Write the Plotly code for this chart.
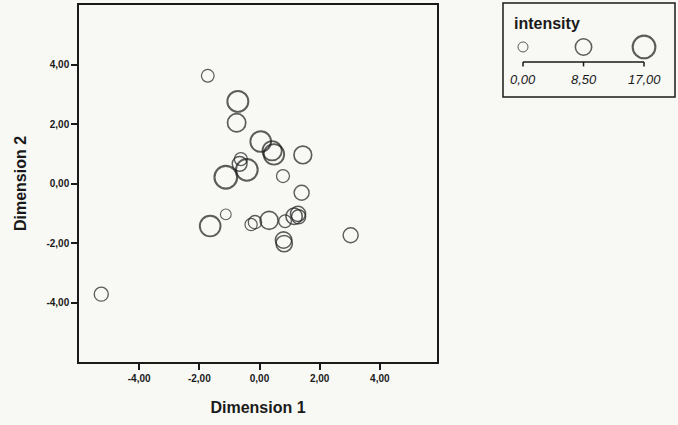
import plotly.graph_objects as go

# ---- data ----
dim1 = [-1.72, -0.72, -0.76, 0.04, 0.42, 0.48, 1.44, -0.62, -0.66, -0.42, -1.12, 0.78, 1.40,
        -1.12, -1.64, -0.28, -0.15, 0.32, 0.85, 1.15, 1.28, 1.30, 0.80, 0.82, 3.03, -5.26]
dim2 = [3.62, 2.76, 2.04, 1.41, 1.10, 0.98, 0.96, 0.82, 0.66, 0.46, 0.21, 0.25, -0.31,
        -1.04, -1.43, -1.38, -1.30, -1.24, -1.27, -1.10, -1.02, -1.12, -1.90, -2.02, -1.74, -3.72]
intensity = [3.6, 14.7, 11.0, 14.3, 12.5, 14.0, 10.3, 4.0, 6.5, 15.6, 17.0, 4.0, 6.7,
             1.0, 14.3, 3.0, 4.5, 10.7, 3.6, 8.5, 7.0, 5.5, 8.5, 8.5, 6.7, 5.4]

tick_vals = [-4, -2, 0, 2, 4]
tick_text = ["-4,00", "-2,00", "0,00", "2,00", "4,00"]

legend_vals = [0, 8.5, 17]
legend_text = ["0,00", "8,50", "17,00"]
legend_title = "intensity"

x_title = "Dimension 1"
y_title = "Dimension 2"

# ---- styling ----
W, H = 678, 425
BG = "#f8f8f4"
INK = "#1a1a1a"
IMAX = 17.0
FONT = "Liberation Sans, Arial, sans-serif"


def diam(v):
    return 10 + v * 12.7 / IMAX


def lw(v):
    return 1.0 + v / IMAX * 1.1


def px_x(p):
    return p / W


def px_y(p):
    return 1 - p / H


fig = go.Figure()

fig.add_trace(go.Scatter(
    x=dim1, y=dim2, mode="markers",
    marker=dict(symbol="circle-open", color=INK,
                size=[diam(v) for v in intensity],
                line=dict(width=[lw(v) for v in intensity], color=INK)),
    hoverinfo="skip", showlegend=False, xaxis="x", yaxis="y"))

# legend drawn as a small second set of axes (y=0 row holds the symbols)
fig.add_trace(go.Scatter(
    x=legend_vals, y=[0] * len(legend_vals), mode="markers",
    marker=dict(symbol="circle-open", color=INK,
                size=[diam(v) for v in legend_vals],
                line=dict(width=[lw(v) for v in legend_vals], color=INK)),
    hoverinfo="skip", showlegend=False, xaxis="x2", yaxis="y2"))

axis_font = dict(family=FONT, size=10, color=INK)
title_font = dict(family=FONT, size=16, color=INK)
bold_ticks = ["<b>" + t + "</b>" for t in tick_text]

fig.update_layout(
    width=W, height=H, margin=dict(l=0, r=0, t=0, b=0),
    paper_bgcolor=BG, plot_bgcolor=BG,
    xaxis=dict(domain=[px_x(79), px_x(437)], range=[-6, 5.9],
               tickvals=tick_vals, ticktext=bold_ticks,
               showgrid=False, zeroline=False,
               showline=True, linecolor=INK, linewidth=1.5, mirror=True,
               ticks="outside", ticklen=6, tickwidth=1.5, tickcolor=INK,
               tickfont=axis_font, automargin=False,
               title=dict(text="<b>" + x_title + "</b>", font=title_font, standoff=19),
               anchor="y"),
    yaxis=dict(domain=[px_y(362), px_y(5)], range=[-6, 6],
               tickvals=tick_vals, ticktext=bold_ticks,
               showgrid=False, zeroline=False,
               showline=True, linecolor=INK, linewidth=1.5, mirror=True,
               ticks="outside", ticklen=6, tickwidth=1.5, tickcolor=INK,
               tickfont=axis_font, automargin=False,
               title=dict(text="<b>" + y_title + "</b>", font=title_font, standoff=16),
               anchor="x"),
    xaxis2=dict(domain=[px_x(503), px_x(675)], range=[-2.81, 21.35],
                visible=False, anchor="y2", fixedrange=True),
    yaxis2=dict(domain=[px_y(97), px_y(3)], range=[-3.14, 2.76],
                visible=False, anchor="x2", fixedrange=True),
)

# legend frame
fig.add_shape(type="rect", xref="x2 domain", yref="y2 domain", x0=0, x1=1, y0=0, y1=1,
              line=dict(color=INK, width=1.5), fillcolor="rgba(0,0,0,0)", layer="below")
# bracket under legend symbols
yb = -0.94
fig.add_shape(type="line", xref="x2", yref="y2", x0=legend_vals[0], x1=legend_vals[-1],
              y0=yb, y1=yb, line=dict(color=INK, width=1.5))
for v in legend_vals:
    fig.add_shape(type="line", xref="x2", yref="y2", x0=v, x1=v, y0=yb, y1=yb - 0.28,
                  line=dict(color=INK, width=1.5))
for v, t in zip(legend_vals, legend_text):
    fig.add_annotation(x=v, y=-2.07, xref="x2", yref="y2", text="<i>" + t + "</i>",
                       showarrow=False, font=dict(family=FONT, size=13, color=INK))
fig.add_annotation(x=0.05, y=0.787, xref="x2 domain", yref="y2 domain", xanchor="left",
                   yanchor="middle", text="<b>" + legend_title + "</b>", showarrow=False,
                   font=dict(family=FONT, size=16, color=INK))

fig.write_html("out.html")
